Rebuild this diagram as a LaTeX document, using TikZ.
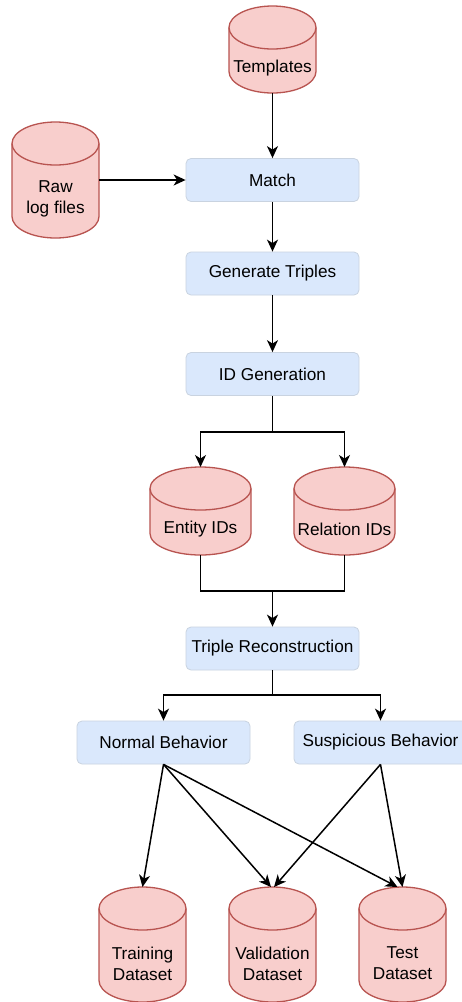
\documentclass[tikz,border=0pt]{standalone}
\usepackage{fontspec}
\setmainfont{Liberation Sans}
\usetikzlibrary{arrows.meta,calc}
\definecolor{dbfill}{HTML}{F8CECC}
\definecolor{dbdraw}{HTML}{B85450}
\definecolor{boxfill}{HTML}{DAE8FC}
\definecolor{boxdraw}{HTML}{C9D3E0}
\newcommand\drawcyl[2]{%
  \path[fill=dbfill, draw=dbdraw, line width=1.3pt]
    ([yshift=-21.5pt]#1.north west) -- ([yshift=21.5pt]#1.south west)
    arc[start angle=180, end angle=360, x radius=#2, y radius=21.5pt]
    -- ([yshift=-21.5pt]#1.north east)
    arc[start angle=0, end angle=180, x radius=#2, y radius=21.5pt] -- cycle;
  \draw[draw=dbdraw, line width=1.3pt] ([yshift=-21.5pt]#1.north west)
    arc[start angle=180, end angle=360, x radius=#2, y radius=21.5pt];
}
\begin{document}
\begin{tikzpicture}[x=1pt, y=-1pt,
  every node/.style={font=\fontsize{17.2}{21}\selectfont, text=black},
  proc/.style={rectangle, rounded corners=5pt, fill=boxfill, draw=boxdraw, line width=0.8pt,
    minimum width=173pt, minimum height=43pt, inner sep=0pt},
  dbn/.style={rectangle, inner sep=0pt, outer sep=0pt, minimum width=87pt},
  dbtext/.style={align=center, inner sep=0pt},
  conn/.style={line width=1.5pt, draw=black},
  arr/.style={conn, -{Stealth[length=12pt, width=11pt, inset=3.5pt]}}
]
\clip (0,0) rectangle (462,1002);
\fill[white] (0,0) rectangle (462,1002);

% cylinders (anchors)
\node[dbn, minimum height=87pt] (tmpl) at (272.5,49.5) {};
\node[dbn, minimum height=116pt] (raw) at (55.5,180) {};
\node[dbn, minimum width=101pt, minimum height=88pt] (ent) at (200.5,511) {};
\node[dbn, minimum width=101pt, minimum height=88pt] (rel) at (344.5,511) {};
\node[dbn, minimum height=115pt] (trn) at (142.5,944.5) {};
\node[dbn, minimum height=115pt] (val) at (272.5,944.5) {};
\node[dbn, minimum height=115pt] (tst) at (402.5,944.5) {};

\drawcyl{tmpl}{43.5pt}
\drawcyl{raw}{43.5pt}
\drawcyl{ent}{50.5pt}
\drawcyl{rel}{50.5pt}
\drawcyl{trn}{43.5pt}
\drawcyl{val}{43.5pt}
\drawcyl{tst}{43.5pt}

\node[dbtext] (tmpl-t) at ($(tmpl.center)+(0,19)$) {Templates};
\node[dbtext] (raw-t) at ($(raw.center)+(0,19)$) {Raw\\log files};
\node[dbtext] (ent-t) at ($(ent.center)+(0,18.5)$) {Entity IDs};
\node[dbtext] (rel-t) at ($(rel.center)+(0,18.5)$) {Relation IDs};
\node[dbtext] (trn-t) at ($(trn.center)+(0,19)$) {Training\\Dataset};
\node[dbtext] (val-t) at ($(val.center)+(0,19)$) {Validation\\Dataset};
\node[dbtext] (tst-t) at ($(tst.center)+(0,19)$) {Test\\Dataset};

% process boxes
\node[proc] (match) at (272.5,180) {Match};
\node[proc] (gen) at (272.5,273.5) {Generate Triples};
\node[proc] (idg) at (272.5,374) {ID Generation};
\node[proc] (trc) at (272.5,648.5) {Triple Reconstruction};
\node[proc] (nb) at (163.5,742.5) {Normal Behavior};
\node[proc] (sb) at (380.5,742.5) {Suspicious Behavior};

% connectors
\draw[arr] (tmpl.south) -- (match.north);
\draw[arr] (raw.east) -- (match.west);
\draw[arr] (match.south) -- (gen.north);
\draw[arr] (gen.south) -- (idg.north);

\coordinate (split1) at (272.5,432);
\draw[conn] (idg.south) -- (split1);
\draw[arr] (split1) -| (ent.north);
\draw[arr] (split1) -| (rel.north);

\coordinate (join1) at (272.5,591);
\draw[conn] (ent.south) |- (join1);
\draw[conn] (rel.south) |- (join1);
\draw[arr] (join1) -- (trc.north);

\coordinate (split2) at (272.5,695);
\draw[conn] (trc.south) -- (split2);
\draw[arr] (split2) -| (nb.north);
\draw[arr] (split2) -| (sb.north);

\draw[arr] (nb.south) -- (trn.north);
\draw[arr] (nb.south) -- ([xshift=-1.5pt]val.north);
\draw[arr] (nb.south) -- ([xshift=-5pt]tst.north);
\draw[arr] (sb.south) -- ([xshift=1.5pt]val.north);
\draw[arr] (sb.south) -- (tst.north);
\end{tikzpicture}
\end{document}
